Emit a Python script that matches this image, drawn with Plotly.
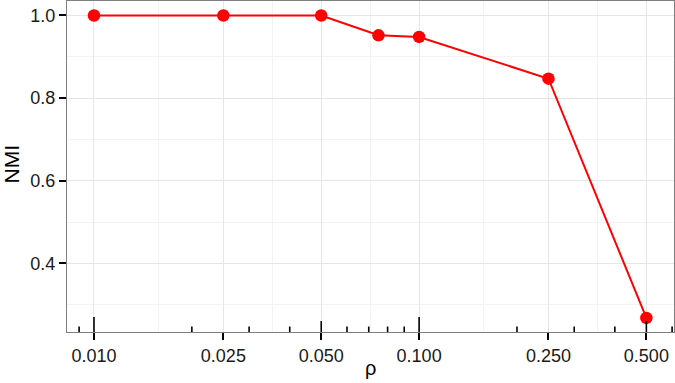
import math
import plotly.graph_objects as go

# Data
rho = [0.01, 0.025, 0.05, 0.075, 0.1, 0.25, 0.5]
nmi = [1.0, 1.0, 1.0, 0.952, 0.948, 0.847, 0.268]

x_ticks = [0.01, 0.025, 0.05, 0.1, 0.25, 0.5]
x_ticklabels = ["0.010", "0.025", "0.050", "0.100", "0.250", "0.500"]
y_ticks = [0.4, 0.6, 0.8, 1.0]
y_ticklabels = ["0.4", "0.6", "0.8", "1.0"]

# log ticks (annotation_logticks style)
logtick_vals = [0.009, 0.01, 0.02, 0.03, 0.04, 0.05, 0.06, 0.07, 0.08, 0.09,
                0.1, 0.2, 0.3, 0.4, 0.5, 0.6]

# minor grid: geometric midpoints between breaks
x_minor = [math.sqrt(a * b) for a, b in zip(x_ticks[:-1], x_ticks[1:])]
y_minor = [0.3, 0.5, 0.7, 0.9]

fig = go.Figure()
fig.add_trace(go.Scatter(
    x=rho, y=nmi, mode="lines+markers",
    line=dict(color="#FF0000", width=2),
    marker=dict(color="#FF0000", size=12.5),
    showlegend=False,
))

shapes = []
for v in logtick_vals:
    lv = round(v / (10 ** math.floor(math.log10(v) + 1e-9)))
    if lv == 1:
        length = 15
    elif lv == 5:
        length = 11
    else:
        length = 5.5
    shapes.append(dict(
        type="line", xref="x", yref="paper",
        x0=v, x1=v, ysizemode="pixel", yanchor=0, y0=0, y1=length,
        line=dict(color="black", width=1.6),
    ))

fig.update_layout(
    width=675, height=383,
    margin=dict(l=67, r=1, t=1, b=51),
    paper_bgcolor="white", plot_bgcolor="white",
    font=dict(family="Liberation Sans, Arial, sans-serif", color="black"),
    shapes=shapes,
    annotations=[
        dict(text="ρ", xref="paper", yref="paper", x=0.5, y=0, yshift=-23,
             xanchor="center", yanchor="top", showarrow=False,
             font=dict(size=20)),
        dict(text="NMI", xref="paper", yref="paper", x=0, y=0.506, xshift=-55,
             xanchor="center", yanchor="middle", showarrow=False, textangle=-90,
             font=dict(size=21)),
    ],
    xaxis=dict(
        type="log", range=[-2.083, -0.216], automargin=False,
        tickmode="array", tickvals=x_ticks, ticktext=x_ticklabels,
        tickfont=dict(size=18, color="#1a1a1a"),
        ticks="outside", ticklen=7, tickwidth=1.6, tickcolor="black",
        showgrid=True, gridcolor="#E6E6E6", gridwidth=1,
        minor=dict(tickmode="array", tickvals=x_minor, showgrid=True,
                   gridcolor="#F3F3F3", gridwidth=1, ticks=""),
        showline=True, linecolor="#7F7F7F", linewidth=1, mirror=True,
        zeroline=False,
    ),
    yaxis=dict(
        range=[0.234, 1.035], automargin=False,
        tickmode="array", tickvals=y_ticks, ticktext=y_ticklabels,
        tickfont=dict(size=18, color="#1a1a1a"),
        ticks="outside", ticklen=7, tickwidth=1.6, tickcolor="black",
        showgrid=True, gridcolor="#E6E6E6", gridwidth=1,
        minor=dict(tickmode="array", tickvals=y_minor, showgrid=True,
                   gridcolor="#F3F3F3", gridwidth=1, ticks=""),
        showline=True, linecolor="#7F7F7F", linewidth=1, mirror=True,
        zeroline=False,
    ),
)

fig.write_html(
    "out.html",
    config={"displayModeBar": False},
    post_script="document.body.style.margin='0';document.body.style.overflow='hidden';",
)
